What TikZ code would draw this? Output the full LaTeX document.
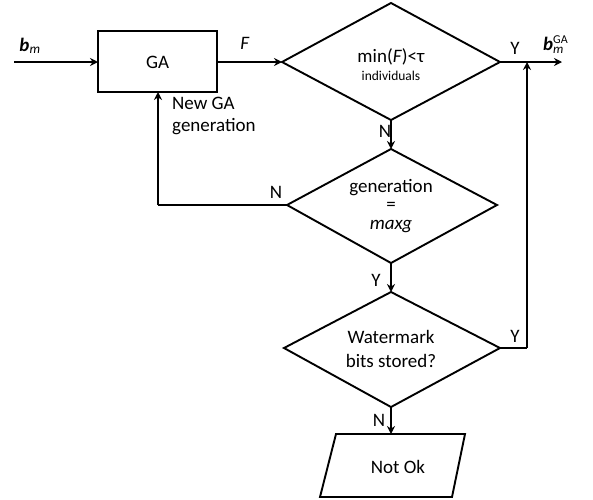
\documentclass[tikz,border=0pt]{standalone}
\usepackage{fontspec}
\setmainfont{Carlito}
\usetikzlibrary{shapes.geometric,arrows.meta}
\begin{document}
\begin{tikzpicture}[x=1pt,y=-1pt,
  line/.style={line width=1.9pt},
  arr/.style={line width=1.9pt,-{Stealth[length=8pt,width=8pt]}},
  txt/.style={font=\fontsize{19}{22}\selectfont,inner sep=0pt},
  small/.style={font=\fontsize{13.5}{15}\selectfont,inner sep=0pt},
  lab/.style={font=\fontsize{19}{22}\selectfont,inner sep=0pt}]
\useasboundingbox (0,0) rectangle (593,499);
% GA box
\draw[line] (98,31) rectangle (217,92);
\node[txt] (ga) at (157.5,62) {GA};
\coordinate (gaW) at (98,62);
\coordinate (gaE) at (217,62);
\coordinate (gaS) at (158,92);
\coordinate (in) at (14,62);
% diamond 1
\draw[line] (282,62) -- (391,3) -- (500,62) -- (391,120) -- cycle;
\coordinate (d1W) at (282,62);
\coordinate (d1E) at (500,62);
\coordinate (d1S) at (391,120);
\node[txt] (t1) at (391,57) {min(\textit{F})<τ};
\node[small] (t1b) at (391,76) {individuals};
% diamond 2
\draw[line] (287,205) -- (391,149) -- (497,205) -- (391,263) -- cycle;
\coordinate (d2N) at (391,149);
\coordinate (d2W) at (287,205);
\coordinate (d2S) at (391,263);
\node[txt,align=center,font=\fontsize{19}{18.5}\selectfont] (t2) at (391,206) {generation\\=\\\textit{maxg}};
% diamond 3
\draw[line] (284,348) -- (391,292) -- (500,348) -- (391,407) -- cycle;
\coordinate (d3N) at (391,292);
\coordinate (d3E) at (500,348);
\coordinate (d3S) at (391,407);
\node[txt,align=center,font=\fontsize{19}{24}\selectfont] (t3) at (391,349) {Watermark\\bits stored?};
% parallelogram
\draw[line] (336,434) -- (465,434) -- (452,497) -- (320,497) -- cycle;
\coordinate (pN) at (391,434);
\node[txt] (nok) at (398,467) {Not Ok};
% right column
\coordinate (rc) at (527,348);
\coordinate (rt) at (527,62);
\coordinate (out) at (562,62);
\coordinate (bl) at (158,205);
% connectors
\draw[arr] (in) -- (gaW);
\draw[arr] (gaE) -- (d1W);
\draw[line] (d1E) -- (rt);
\draw[arr] (rt) -- (out);
\draw[arr] (d1S) -- (d2N);
\draw[line] (d2W) -- (bl);
\draw[arr] (bl) -- (gaS);
\draw[arr] (d2S) -- (d3N);
\draw[line] (d3E) -- (rc);
\draw[arr] (rc) -- (rt);
\draw[arr] (d3S) -- (pN);
% labels
\node[lab] (lbm) at (30,46) {\textbf{\textit{b}}\textsubscript{\textit{m}}};
\node[lab] (lF) at (245,43) {\textit{F}};
\node[lab] (lY1) at (515,48) {Y};
\node[lab,anchor=west] (lbga) at (543,45) {\textbf{\textit{b}}\rlap{\raisebox{7pt}{\fontsize{12}{13}\selectfont GA}}\raisebox{-3pt}{\fontsize{13}{14}\selectfont\textit{m}}};
\node[lab] (lN1) at (385,131) {N};
\node[lab,anchor=west,align=left] (lnew) at (172,116) {New GA\\generation};
\node[lab] (lN2) at (276,192) {N};
\node[lab] (lY2) at (376,280) {Y};
\node[lab] (lY3) at (515,336) {Y};
\node[lab] (lN3) at (379,420) {N};
\end{tikzpicture}
\end{document}
